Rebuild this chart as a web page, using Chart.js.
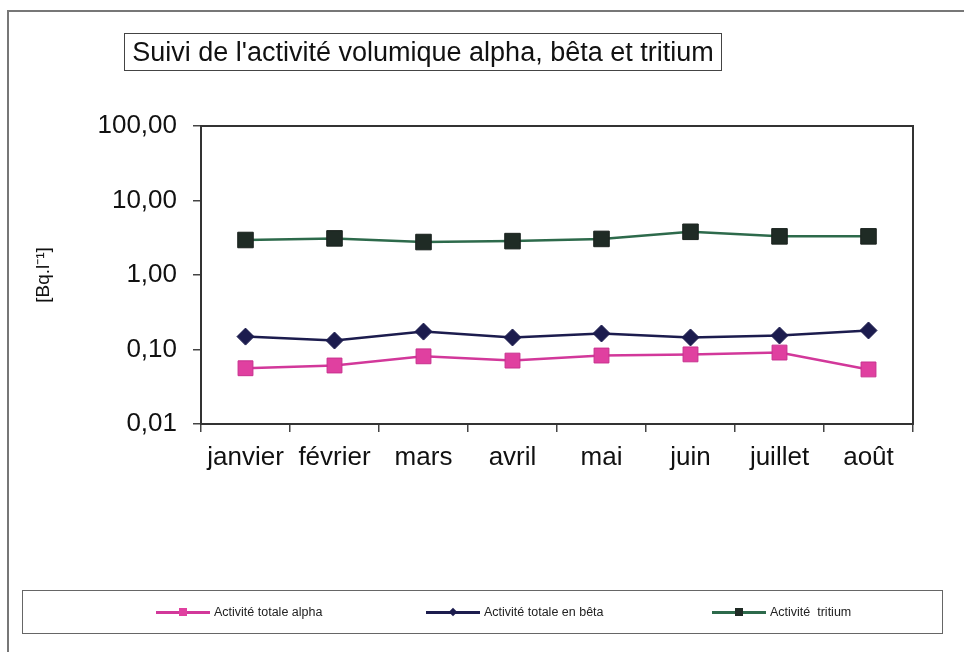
<!DOCTYPE html>
<html>
<head>
<meta charset="utf-8">
<script src="https://cdn.jsdelivr.net/npm/chart.js"></script>
<style>
  body { margin: 0; background: #fff; font-family: 'Liberation Sans', Arial, sans-serif; }
  #page { position: relative; width: 964px; height: 652px; overflow: hidden; }
  #frame { position: absolute; left: 7px; top: 10px; width: 970px; height: 660px;
           border-top: 2px solid #777; border-left: 2px solid #777; }
  #title { position: absolute; left: 124px; top: 33px; width: 596px; height: 36px;
           border: 1px solid #444; font-size: 27px; line-height: 37px; text-align: center;
           color: #111; white-space: nowrap; }
  #legend { position: absolute; left: 22px; top: 590px; width: 919px; height: 42px;
            border: 1px solid #666; font-size: 12.5px; color: #222; }
  .item { position: absolute; top: 14px; height: 14px; line-height: 14px; white-space: nowrap; }
  .item i { display: inline-block; width: 54px; height: 3px; vertical-align: middle;
            position: relative; margin-right: 4px; }
  .item i b { position: absolute; left: 23px; top: -3px; width: 8px; height: 8px; }
  canvas { position: absolute; left: 0; top: 0; }
</style>
</head>
<body>
<div id="page">
  <div id="frame"></div>
  <canvas id="chart" width="964" height="652"></canvas>
  <div id="title">Suivi de l'activité volumique alpha, bêta et tritium</div>
  <div id="legend">
    <div class="item" style="left:133px"><i style="background:#d2389a"><b style="background:#e040a0"></b></i>Activité totale alpha</div>
    <div class="item" style="left:403px"><i style="background:#1c1c4e"><b style="background:#1c1c4e;transform:rotate(45deg) scale(.75)"></b></i>Activité totale en bêta</div>
    <div class="item" style="left:689px"><i style="background:#2d6a4b"><b style="background:#1f2b25"></b></i>Activité&nbsp; tritium</div>
  </div>
</div>
<script>
// Données
const mois = ['janvier', 'février', 'mars', 'avril', 'mai', 'juin', 'juillet', 'août'];
const alpha = [0.056, 0.061, 0.081, 0.071, 0.083, 0.086, 0.091, 0.054];
const beta = [0.149, 0.132, 0.174, 0.145, 0.164, 0.145, 0.154, 0.180];
const tritium = [2.95, 3.10, 2.77, 2.85, 3.05, 3.80, 3.30, 3.30];
const yTicks = [0.01, 0.1, 1, 10, 100];

const fontName = "'Liberation Sans', Arial, sans-serif";

// Cadre autour de la zone de tracé
const boxPlugin = {
    id: 'box',
    afterDraw(chart) {
        const a = chart.chartArea;
        const ctx = chart.ctx;
        ctx.save();
        ctx.strokeStyle = '#333';
        ctx.lineWidth = 2;
        ctx.strokeRect(a.left, a.top, a.right - a.left, a.bottom - a.top);
        ctx.restore();
    }
};

const ctx = document.getElementById('chart').getContext('2d');
new Chart(ctx, {
    type: 'line',
    data: {
        labels: mois,
        datasets: [{
            label: 'Activité totale alpha',
            data: alpha,
            borderColor: '#d2389a',
            backgroundColor: '#e040a0',
            pointBorderColor: '#c8308e',
            pointStyle: 'rect',
            pointRadius: 10.5,
            borderWidth: 2.5,
            pointBorderWidth: 1
        }, {
            label: 'Activité totale en bêta',
            data: beta,
            borderColor: '#1c1c4e',
            backgroundColor: '#1c1c4e',
            pointBorderColor: '#1c1c4e',
            pointStyle: 'rectRot',
            pointRadius: 8.5,
            borderWidth: 2.5,
            pointBorderWidth: 1
        }, {
            label: 'Activité tritium',
            data: tritium,
            borderColor: '#2d6a4b',
            backgroundColor: '#1f2b25',
            pointBorderColor: '#1a221e',
            pointStyle: 'rect',
            pointRadius: 11,
            borderWidth: 2.5,
            pointBorderWidth: 1
        }]
    },
    options: {
        responsive: false,
        animation: false,
        layout: { padding: { left: 28, top: 126, right: 51, bottom: 168 } },
        plugins: {
            legend: { display: false },
            tooltip: { enabled: false }
        },
        scales: {
            x: {
                type: 'category',
                offset: true,
                grid: { offset: true, drawOnChartArea: false, tickLength: 8, color: '#444', lineWidth: 1.5 },
                border: { color: '#333', width: 2 },
                ticks: { color: '#111', font: { family: fontName, size: 26 }, padding: 10, maxRotation: 0, autoSkip: false },
                afterFit(scale) { scale.height = 60; }
            },
            y: {
                type: 'logarithmic',
                min: 0.01,
                max: 100,
                afterBuildTicks(scale) { scale.ticks = yTicks.map(v => ({ value: v })); },
                grid: { drawOnChartArea: false, tickLength: 8, color: '#444', lineWidth: 1.5 },
                border: { color: '#333', width: 2 },
                ticks: {
                    color: '#111',
                    font: { family: fontName, size: 26 },
                    padding: 16,
                    callback: v => Number(v).toFixed(2).replace('.', ',')
                },
                title: {
                    display: true,
                    text: '[Bq.l⁻¹]',
                    color: '#111',
                    font: { family: fontName, size: 19 },
                    padding: { top: 4, bottom: 0 }
                },
                afterFit(scale) { scale.width = 173; }
            }
        }
    },
    plugins: [boxPlugin]
});
</script>
</body>
</html>
